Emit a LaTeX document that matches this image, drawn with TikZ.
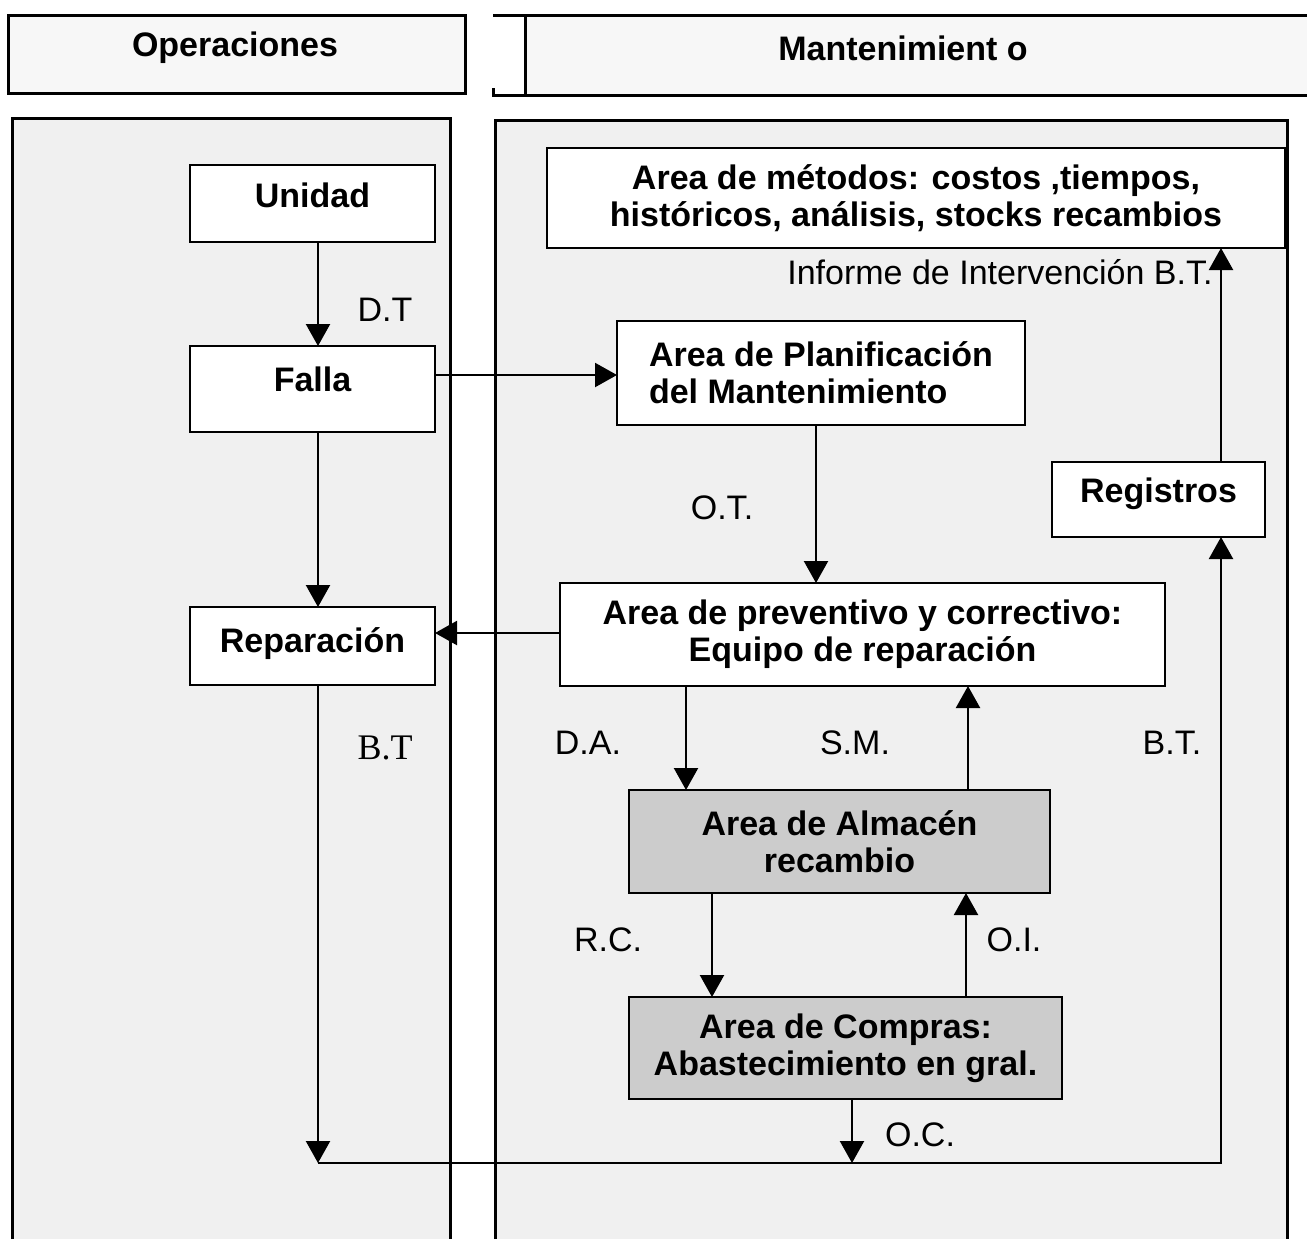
\documentclass[tikz,border=0pt]{standalone}
\usepackage{fontspec}
\setmainfont{Liberation Sans}
\newfontfamily\serifnum{Liberation Serif}
\usetikzlibrary{arrows.meta}

% raise the ink of a box label without changing the box size
\newcommand\upby[2]{\raisebox{#1}[\height][\depth]{#2}}

\begin{document}
\begin{tikzpicture}[x=0.5pt,y=-0.5pt,
  box/.style={draw=black, line width=1.1pt, fill=white, rectangle,
    inner sep=0pt, outer sep=0pt, align=center,
    font=\bfseries\fontsize{17}{18.5}\selectfont},
  darkbox/.style={box, fill=black!20},
  head/.style={font=\bfseries\fontsize{17}{19}\selectfont, inner sep=0pt},
  lbl/.style={font=\fontsize{17}{19}\selectfont, inner sep=0pt},
  arr/.style={line width=1.1pt, -{Triangle[length=11pt,width=12pt]}},
  frame/.style={line width=1.5pt},
  panel/.style={fill=black!6}]

\useasboundingbox (0,0) rectangle (1307,1239);

% column panels (open at the bottom)
\fill[panel] (12,118) rectangle (450,1239);
\fill[panel] (495,120) rectangle (1287,1239);
\draw[frame] (12,1239) -- (12,118) -- (450,118) -- (450,1239);
\draw[frame] (495,1239) -- (495,120) -- (1287,120) -- (1287,1239);

% column headers
\fill[black!3] (8,15) rectangle (465,93);
\draw[frame] (8,15) rectangle (465,93);
\fill[black!3] (525,15) rectangle (1307,95);
\draw[frame] (493,15) -- (1307,15);
\draw[frame] (525,15) -- (525,95);
\draw[frame] (493,88) -- (493,95) -- (1307,95);
\node[head] (hOp) at (235,48) {Operaciones};
\node[head] (hMa) at (903,48) {Mantenimient o};

% process boxes
\node[box, minimum width=122.5pt, minimum height=38.5pt] (unidad) at (312.5,203.5) {\upby{4pt}{Unidad}};
\node[box, minimum width=122.5pt, minimum height=43pt] (falla) at (312.5,389) {\upby{5pt}{Falla}};
\node[box, minimum width=122.5pt, minimum height=39pt] (rep) at (312.5,646) {\upby{1pt}{Reparación}};
\node[box, minimum width=369pt, minimum height=50pt] (metodos) at (916,198)
  {Area de métodos: costos ,tiempos,\\históricos, análisis, stocks recambios};
\node[box, minimum width=204pt, minimum height=52pt, align=left] (plan) at (821,373)
  {Area de Planificación\\del Mantenimiento};
\node[box, minimum width=106.5pt, minimum height=37.5pt] (reg) at (1158.5,499.5) {\upby{3pt}{Registros}};
\node[box, minimum width=302.5pt, minimum height=51.5pt] (prev) at (862.5,634.5)
  {Area de preventivo y correctivo:\\Equipo de reparación};
\node[darkbox, minimum width=210.5pt, minimum height=51.5pt] (alm) at (839.5,841.5)
  {Area de Almacén\\recambio};
\node[darkbox, minimum width=216.5pt, minimum height=51pt] (comp) at (845.5,1048)
  {Area de Compras:\\Abastecimiento en gral.};

% connector columns and the return line
\coordinate (cL) at (318,0);
\coordinate (cOT) at (816,0);
\coordinate (cDA) at (686,0);
\coordinate (cSM) at (968,0);
\coordinate (cRC) at (712,0);
\coordinate (cOI) at (966,0);
\coordinate (cOC) at (852,0);
\coordinate (cR) at (1221,0);
\coordinate (bl) at (318,1163);
\coordinate (br) at (1221,1163);

% connectors
\draw[arr] (unidad.south -| cL) -- (falla.north -| cL);
\draw[arr] (falla.east |- 0,375) -- (plan.west |- 0,375);
\draw[arr] (falla.south -| cL) -- (rep.north -| cL);
\draw[arr] (plan.south -| cOT) -- (prev.north -| cOT);
\draw[arr] (prev.west |- 0,633) -- (rep.east |- 0,633);
\draw[arr] (prev.south -| cDA) -- (alm.north -| cDA);
\draw[arr] (alm.north -| cSM) -- (prev.south -| cSM);
\draw[arr] (alm.south -| cRC) -- (comp.north -| cRC);
\draw[arr] (comp.north -| cOI) -- (alm.south -| cOI);
\draw[arr] (comp.south -| cOC) -- (bl -| cOC);
\draw[arr] (rep.south -| cL) -- (bl);
\draw[arr] (bl) -- (br) -- (reg.south -| cR);
\draw[arr] (reg.north -| cR) -- (metodos.south -| cR);

% connector labels
\node[lbl] (lDT) at (385,310) {D.T};
\node[lbl] (lOT) at (722,508) {O.T.};
\node[lbl] (lDA) at (588,743) {D.A.};
\node[lbl] (lSM) at (855,743) {S.M.};
\node[lbl] (lBT2) at (1172,743) {B.T.};
\node[lbl] (lRC) at (608,940) {R.C.};
\node[lbl] (lOI) at (1014,940) {O.I.};
\node[lbl] (lOC) at (920,1135) {O.C.};
\node[lbl, font=\serifnum\fontsize{18}{20}\selectfont] (lBT) at (385,748) {B.T};
\node[lbl, anchor=east] (lInf) at (1213,272) {Informe de Intervención B.T.};

\end{tikzpicture}
\end{document}
